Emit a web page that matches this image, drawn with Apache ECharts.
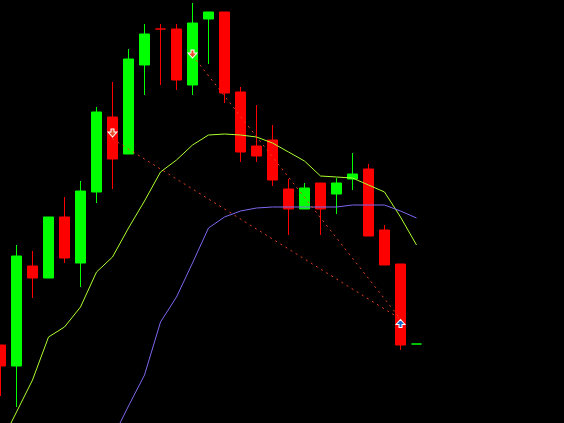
<!DOCTYPE html>
<html>
<head>
<meta charset="utf-8">
<style>
  html, body { margin: 0; padding: 0; background: #000; }
  #chart { width: 564px; height: 423px; }
</style>
<script src="https://cdn.jsdelivr.net/npm/echarts@6/dist/echarts.min.js"></script>
</head>
<body>
<div id="chart"></div>
<script>
// Bars (price in chart points)
const barCount = 36;
const opens  = [78, 57,157,145,206,160,231,306,269,358,394,394,338,404,411,331,277,283,234,214,240,229,244,254,193,159,79];
const closes = [57,167,145,206,165,232,311,264,364,389,394,343,400,411,330,271,267,243,214,235,214,240,249,187,158, 78,79];
const lows   = [27, 16,125,145,160,136,220,234,269,328,338,333,328,359,320,261,261,237,188,214,188,209,233,187,158, 73,79];
const highs  = [78,178,172,206,226,242,316,341,374,399,399,399,420,411,411,336,318,298,244,240,240,245,270,259,198,159,79];
// doji colours (index -> 'up'/'down')
const dojiColor = {10: 'down', 26: 'up'};

// Moving averages
const maFast = [-21,11,43,86,96,116,151,166,195,222,251,263,278,288,289,288,286,280,271,262,247,246,245,238,231,206,178];
const maSlow = ['-','-','-','-','-','-','-',-15,17,48,101,126,160,195,206,212,215,216,216,216,216,216,218,218,218,212,205];

// Trades: open bar/price -> close bar/price
const tradeOpenIdx = [7, 12];
const tradeOpenPrice = [284, 367.5];
const tradeCloseIdx = [25, 25];
const tradeClosePrice = [104, 104];
// Arrow markers
const sellArrowIdx = [7, 12];
const sellArrowPrice = [290, 369];
const closeArrowIdx = [25];
const closeArrowPrice = [99.5];

const UP = '#00FF00', DOWN = '#FF0000';
const categories = [];
for (let i = 0; i < barCount; i++) categories.push(String(i + 1));

const candleData = opens.map((o, i) => {
  const item = { value: [o, closes[i], lows[i], highs[i]] };
  if (dojiColor[i]) {
    const c = dojiColor[i] === 'up' ? UP : DOWN;
    item.itemStyle = { color: c, color0: c, borderColor: c, borderColor0: c, borderColorDoji: c };
  }
  return item;
});

const tradeSeries = tradeOpenIdx.map((oi, t) => ({
  type: 'line',
  data: [[oi, tradeOpenPrice[t]], [tradeCloseIdx[t], tradeClosePrice[t]]],
  showSymbol: false,
  symbol: 'none',
  lineStyle: { color: '#E8401C', width: 1, type: [2, 4] },
  z: 4,
  silent: true
}));

const downArrow = 'path://M3,0L6,0L6,3L9,3L4.5,8L0,3L3,3Z';
const upArrow = 'path://M4.5,0L9,5L6,5L6,8L3,8L3,5L0,5Z';

const chart = echarts.init(document.getElementById('chart'));
chart.setOption({
  backgroundColor: '#000000',
  animation: false,
  grid: { left: 0.5, top: 0, width: 560, height: 423 },
  xAxis: {
    type: 'category',
    data: categories,
    boundaryGap: false,
    show: false
  },
  yAxis: {
    type: 'value',
    min: 0,
    max: 423,
    show: false,
    splitLine: { show: false }
  },
  series: [
    {
      type: 'candlestick',
      data: candleData,
      barWidth: 10,
      clip: false,
      itemStyle: {
        color: UP, color0: DOWN,
        borderColor: UP, borderColor0: DOWN,
        borderWidth: 1
      },
      z: 2
    },
    {
      type: 'line',
      data: maFast,
      showSymbol: false,
      symbol: 'none',
      lineStyle: { color: '#ADFF2F', width: 1 },
      z: 3
    },
    {
      type: 'line',
      data: maSlow,
      showSymbol: false,
      symbol: 'none',
      lineStyle: { color: '#7B68EE', width: 1 },
      z: 3
    },
    ...tradeSeries,
    {
      type: 'scatter',
      data: sellArrowIdx.map((i, k) => [i, sellArrowPrice[k]]),
      symbol: downArrow,
      symbolSize: [9, 8],
      itemStyle: { color: '#E8502A', borderColor: '#FFFFFF', borderWidth: 1, opacity: 1 },
      z: 5
    },
    {
      type: 'scatter',
      data: closeArrowIdx.map((i, k) => [i, closeArrowPrice[k]]),
      symbol: upArrow,
      symbolSize: [9, 8],
      itemStyle: { color: '#1464C8', borderColor: '#FFFFFF', borderWidth: 1, opacity: 1 },
      z: 5
    }
  ]
});
</script>
</body>
</html>
